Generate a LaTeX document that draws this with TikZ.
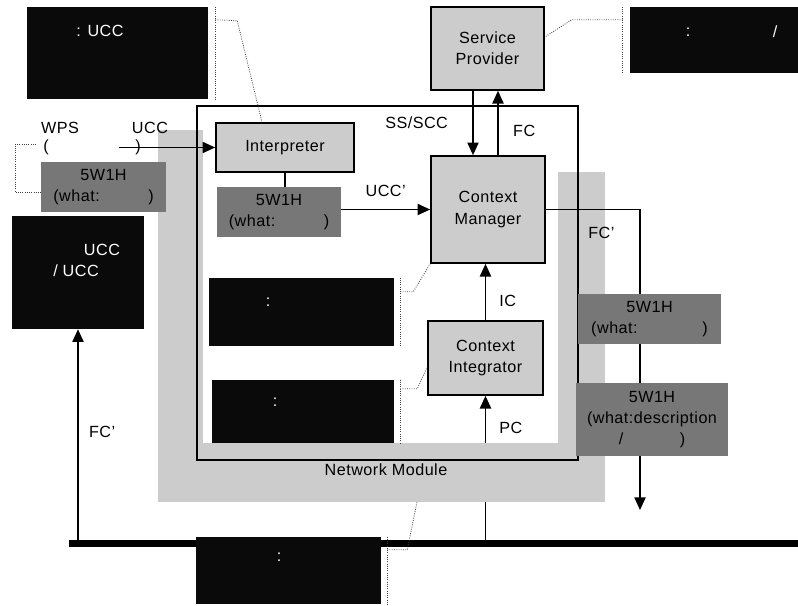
\documentclass[tikz,border=0pt]{standalone}
\usepackage{fontspec}
\setmainfont{Liberation Sans}[LetterSpace=3]
\usetikzlibrary{arrows.meta}

\definecolor{boxgray}{RGB}{204,204,204}
\definecolor{taggray}{RGB}{119,119,119}
\definecolor{notegray}{RGB}{10,10,10}

\begin{document}
\begin{tikzpicture}[x = 0.025cm, y = -0.025cm, > = {Triangle[length=9pt, width=8pt]},
	font = \fontsize{11.5}{15}\selectfont,
	sz/.style 2 args = {minimum width = #1*0.025cm, minimum height = #2*0.025cm},
	block/.style = {draw, line width = 1.2pt, fill = boxgray, inner sep = 0pt, align = center},
	tag/.style = {fill = taggray, inner sep = 0pt, align = center},
	note/.style = {fill = notegray, inner sep = 0pt},
	notetxt/.style = {text = white, inner sep = 0pt},
	link/.style = {line width = 1pt},
	callout/.style = {densely dotted, line width = 0.6pt, black!75}]

	\useasboundingbox (0, 0) rectangle (798, 606);

	% Bus + integrator (under the grey band)
	
	\coordinate (busL) at (69, 543.5);
	\coordinate (busR) at (798, 543.5);
	\draw [line width = 5pt] (busL) -- (busR);
	
	\node [block, sz = {115}{74}] (ci) at (485.5, 358) {Context\\Integrator};
	\draw [link, ->] (ci.south |- busL) -- (ci.south) node [pos = 0.78, right = 6pt] {PC};
	
	% Network module
	
	\fill [boxgray] (158, 130) rectangle (203, 502);
	\fill [boxgray] (158, 443) rectangle (605, 502);
	\fill [boxgray] (558, 172) rectangle (605, 502);
	\node [draw, line width = 1pt, inner sep = 0pt, sz = {381}{354}] (nm) at (387.5, 283) {};
	\node (nmlabel) at (386, 470) {Network Module};
	\coordinate (nmfoot) at (417, 502);
	
	\node [block, sz = {113}{83}] (sp) at (487.5, 48.5) {Service\\Provider};
	\node [block, sz = {138}{49}] (interp) at (285, 147.5) {Interpreter};
	\node [tag, sz = {124}{50}] (w5a) at (279, 212) {5W1H\\(what:\hspace{3em})};
	\node [block, sz = {114}{107}] (cm) at (488, 209.5) {Context\\Manager};
	
	\draw [link] (interp.south) -- (interp.south |- w5a.north);
	\draw [link, ->] (w5a.east |- cm.west) -- (cm.west) node [midway, above = 5pt] {UCC'};
	\draw [link, ->] (ci.north) -- (ci.north |- cm.south) node [pos = 0.34, right = 6pt] {IC};
	
	\coordinate (ssdown) at ([shift = {(-14.5, 0)}] sp.south);
	\coordinate (fcup) at ([shift = {(10.5, 0)}] sp.south);
	\draw [link, ->] (ssdown) -- (ssdown |- cm.north) node [midway, left = 14pt] {SS/SCC};
	\draw [link, ->] (fcup |- cm.north) -- (fcup) node [pos = 0.38, right = 7pt] {FC};
	
	% Feedback to the bus
	
	\coordinate (fcturn) at (640, 209.5);
	\coordinate (fcend) at (640, 510);
	\draw [link, ->] (cm.east) -- node [pos = 0.59, below = 9pt] {FC'} (fcturn) -- (fcend);
	
	\node [tag, sz = {143}{50}] (w5c) at (649.5, 319) {5W1H\\(what:\hspace{4em})};
	\node [tag, sz = {152}{73}] (w5d) at (652, 419.5) {5W1H\\(what:description\\/\hspace{3.5em})};
	
	% Input side
	
	\node [tag, sz = {125}{50}] (w5b) at (103.5, 187) {5W1H\\(what:\hspace{3em})};
	\node (wps) at (60, 128) {WPS};
	\node (lparen) at (46, 147) {(};
	\node (ucc) at (150, 128) {UCC};
	\node (rparen) at (138, 147) {)};
	\coordinate (wpsout) at (119, 147.5);
	\coordinate (wpsbr) at (36, 144);
	\draw [link, ->] (wpsout) -- (interp.west);
	\draw [callout] (wpsbr) -- ++(-21, 0) |- ([shift = {(0, 5)}] w5b.west);
	
	\node [note, sz = {132}{113}] (nt5) at (78, 272.5) {};
	\node [notetxt] at (102, 250) {UCC};
	\node [notetxt] at (76, 271) {/ UCC};
	\draw [link, ->] (nt5.south |- busL) -- (nt5.south) node [pos = 0.52, right = 4pt] {FC'};
	
	% Notes
	
	\node [note, sz = {181}{92}] (nt1) at (117.5, 53) {};
	\node [notetxt] at (100, 31) {: UCC};
	\node [note, sz = {168}{66}] (nt2) at (714, 40) {};
	\node [notetxt] at (688, 32) {:};
	\node [notetxt] at (775, 32) {/};
	\node [note, sz = {185}{68}] (nt3) at (301.5, 312) {};
	\node [notetxt] at (268, 302) {:};
	\node [note, sz = {182}{63}] (nt4) at (303, 411.5) {};
	\node [notetxt] at (275, 402) {:};
	\node [note, sz = {185}{67}] (nt6) at (288.5, 570.5) {};
	\node [notetxt] at (279, 557) {:};
	
	% Note callouts
	
	\draw [callout] ([shift = {(7, 0)}] nt1.north east) -- ([shift = {(7, 0)}] nt1.south east);
	\draw [callout] ([shift = {(7, 13)}] nt1.north east) -- ++(22, 1) -- ([shift = {(-23, 0)}] interp.north);
	\draw [callout] ([shift = {(-7, 0)}] nt2.north west) -- ([shift = {(-7, 0)}] nt2.south west);
	\draw [callout] ([shift = {(-7, 13)}] nt2.north west) -- ++(-51, 0) -- ([shift = {(0, -11.5)}] sp.east);
	\draw [callout] ([shift = {(6, 0)}] nt3.north east) -- ([shift = {(6, 0)}] nt3.south east);
	\draw [callout] ([shift = {(6, 14)}] nt3.north east) -- ++(13, 0) -- (cm.south west);
	\draw [callout] ([shift = {(6, 0)}] nt4.north east) -- ([shift = {(6, 0)}] nt4.south east);
	\draw [callout] ([shift = {(6, 9)}] nt4.north east) -- ++(17, 0) -- ([shift = {(0, 9)}] ci.west);
	\draw [callout] ([shift = {(6, 0)}] nt6.north east) -- ([shift = {(6, 0)}] nt6.south east);
	\draw [callout] ([shift = {(6, 13)}] nt6.north east) -- ++(20, 0) -- (nmfoot);
	
\end{tikzpicture}
\end{document}
